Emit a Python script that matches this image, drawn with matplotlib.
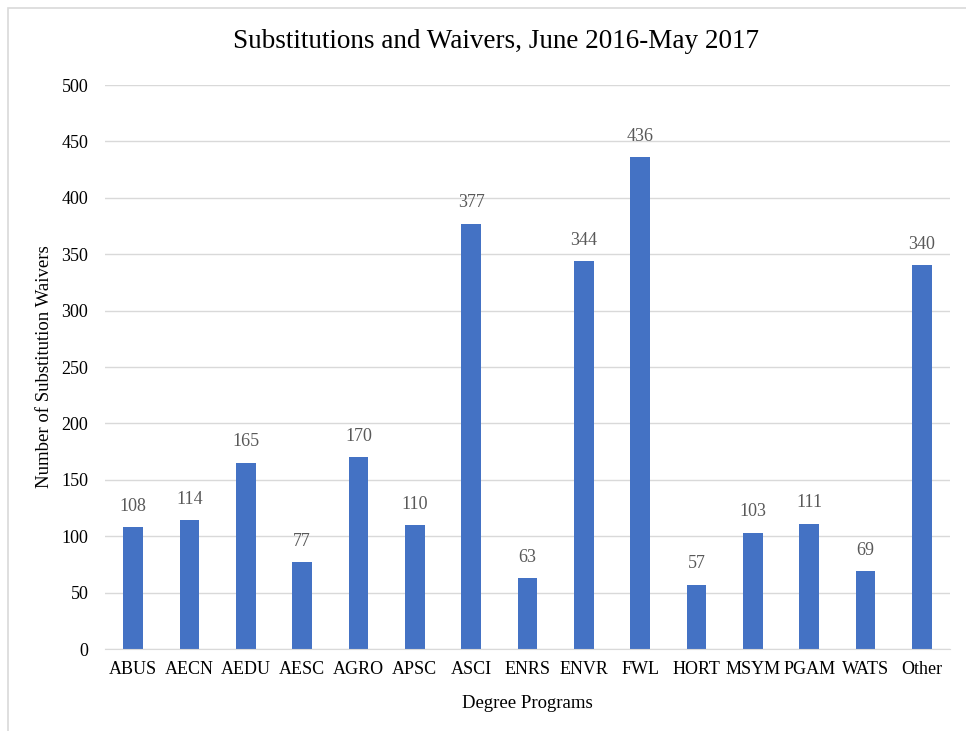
import matplotlib.pyplot as plt
from matplotlib.patches import Rectangle

plt.rcParams['font.family'] = ['Liberation Serif', 'DejaVu Serif']

programs = ['ABUS', 'AECN', 'AEDU', 'AESC', 'AGRO', 'APSC', 'ASCI', 'ENRS',
            'ENVR', 'FWL', 'HORT', 'MSYM', 'PGAM', 'WATS', 'Other']
waivers = [108, 114, 165, 77, 170, 110, 377, 63, 344, 436, 57, 103, 111, 69, 340]

BAR_COLOR = '#4472C4'
GRID_COLOR = '#D9D9D9'

fig = plt.figure(figsize=(9.66, 7.31), dpi=100)
# outer chart border (partly cropped in the reference)
fig.patches.append(Rectangle((8 / 966, -0.1), 1.2, 1 - 8 / 731 + 0.1,
                             transform=fig.transFigure, fill=False,
                             edgecolor=GRID_COLOR, linewidth=1.2))

ax = fig.add_axes([105 / 966, 1 - 649 / 731, 845 / 966, (649 - 85) / 731])
x = range(len(programs))
bars = ax.bar(x, waivers, width=0.35, color=BAR_COLOR, zorder=3)
for xi, v in zip(x, waivers):
    ax.text(xi, v + 11, str(v), ha='center', va='bottom', fontsize=13, color='#595959')

ax.set_xlim(-0.5, len(programs) - 0.5)
ax.set_ylim(0, 500)
ax.set_yticks(range(0, 501, 50))
ax.set_xticks(list(x))
ax.set_xticklabels(programs)
ax.tick_params(axis='both', length=0, labelsize=13, colors='black')
ax.tick_params(axis='y', pad=12)
ax.tick_params(axis='x', pad=9)
ax.grid(axis='y', color=GRID_COLOR, linewidth=1, zorder=0)
for s in ['top', 'right', 'left']:
    ax.spines[s].set_visible(False)
ax.spines['bottom'].set_color(GRID_COLOR)
ax.spines['bottom'].set_zorder(4)

ax.set_xlabel('Degree Programs', fontsize=13.5, labelpad=12)
ax.set_ylabel('Number of Substitution Waivers', fontsize=13.5, labelpad=6)
fig.text(496 / 966, 1 - 41 / 731, 'Substitutions and Waivers, June 2016-May 2017',
         ha='center', va='center', fontsize=19.5)

fig.savefig('out.png', dpi=100)
